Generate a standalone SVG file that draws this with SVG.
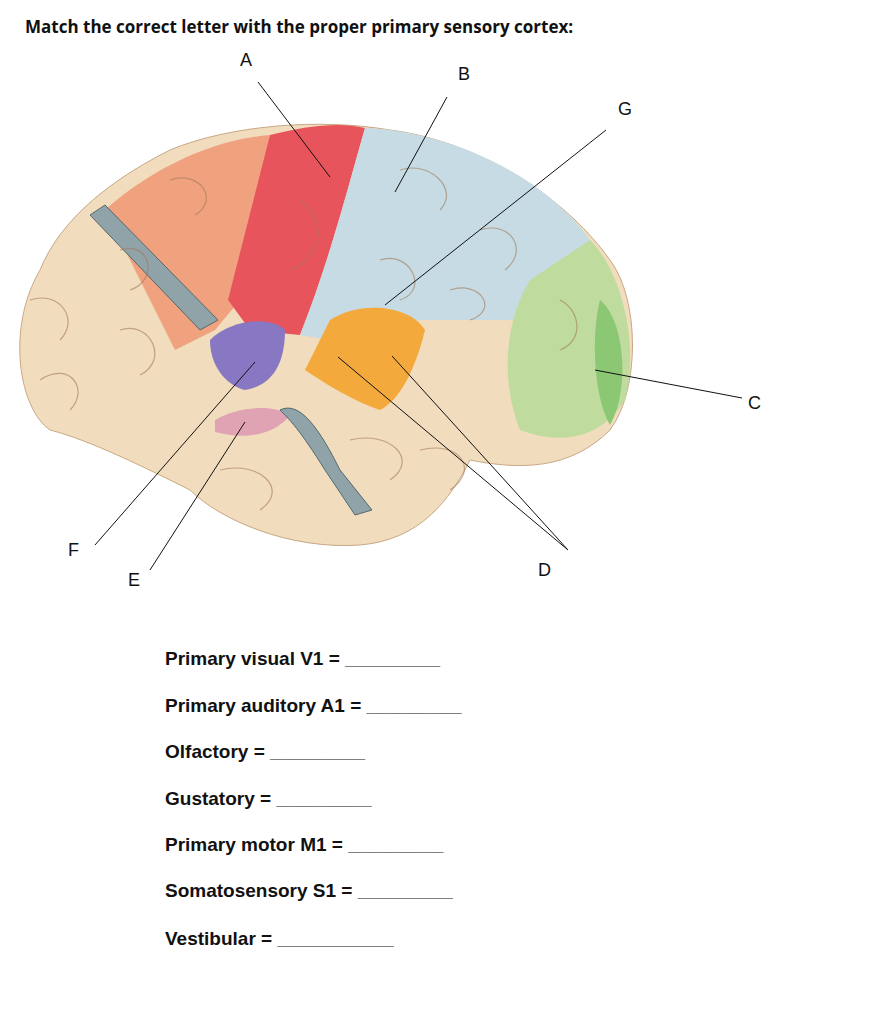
<svg xmlns="http://www.w3.org/2000/svg" width="881" height="1024" viewBox="0 0 881 1024">
<style>
.t{font-family:"Liberation Sans",Arial,sans-serif;font-size:18px;fill:#111}
.q{font-family:"Liberation Sans",Arial,sans-serif;font-size:19px;font-weight:bold;fill:#111}
.h{font-family:"Open Sans","Liberation Sans",sans-serif;font-size:17px;font-weight:bold;fill:#111}
.g{fill:none;stroke:#a07a5a;stroke-width:1.2;opacity:.6}
.lead line{stroke:#111;stroke-width:1}
</style>
<rect width="881" height="1024" fill="#fff"/>
<text class="h" x="25" y="33">Match the correct letter with the proper primary sensory cortex:</text>
<g id="brain">
<path d="M40,270 C60,220 110,180 170,150 C230,125 320,118 390,130 C470,140 560,190 610,260 C640,300 640,390 610,430 C570,470 520,470 470,460 C450,500 420,540 360,545 C290,550 220,520 190,490 C150,470 90,440 50,430 C20,410 5,330 40,270 Z" fill="#f1dcbd" stroke="#c7a985"/>
<path d="M105,210 C150,170 210,140 270,135 L240,300 L215,330 L175,350 Z" fill="#f0a27e"/>
<path d="M270,135 C310,125 340,122 365,128 C350,180 330,260 300,335 L250,330 L228,300 Z" fill="#e8545c"/>
<path d="M365,128 C440,130 540,170 590,240 C560,270 530,290 520,320 L420,320 L330,340 L300,335 C330,260 350,180 365,128 Z" fill="#c6dbe3"/>
<path d="M590,240 C620,270 640,340 625,400 C600,440 560,445 520,430 C500,380 505,320 530,280 Z" fill="#bfdc9e"/>
<path d="M600,300 C625,320 630,390 610,425 C595,400 590,340 600,300 Z" fill="#8cc774"/>
<path d="M330,320 C360,300 410,305 425,330 C415,370 400,400 380,410 C350,400 320,380 305,370 Z" fill="#f3a93c"/>
<path d="M210,340 C230,320 270,315 285,330 C285,360 275,385 245,390 C225,385 210,365 210,340 Z" fill="#8877c2"/>
<path d="M215,420 C240,405 275,405 290,415 C275,435 245,440 215,432 Z" fill="#dfa3b3"/>
<path d="M90,215 L200,330 L218,320 L105,205 Z" fill="#8fa3a8" stroke="#55686d"/>
<path d="M280,410 C300,400 320,430 340,470 L372,510 L355,515 L325,470 C300,430 290,420 280,410 Z" fill="#8fa3a8" stroke="#55686d"/>
<path class="g" d="M30,300 C60,290 80,320 60,340 M40,380 C70,360 90,390 70,410 M120,250 C150,240 160,280 130,290 M170,180 C200,170 220,200 195,215 M300,200 C330,220 320,260 290,270 M400,170 C430,160 460,190 440,210 M480,230 C510,220 530,250 505,270 M380,260 C410,250 430,290 400,300 M450,290 C480,280 500,310 470,320 M560,300 C580,310 585,340 560,350 M420,450 C460,440 480,470 450,490 M220,470 C260,460 290,490 260,510 M350,440 C390,430 420,460 390,480 M120,330 C150,320 170,360 140,375"/>
</g>
<g id="connectors" class="lead">
<line x1="258" y1="82" x2="330" y2="177"/>
<line x1="447" y1="97" x2="395" y2="192"/>
<line x1="606" y1="130" x2="385" y2="305"/>
<line x1="742" y1="398" x2="595" y2="370"/>
<line x1="568" y1="550" x2="338" y2="357"/>
<line x1="568" y1="550" x2="392" y2="356"/>
<line x1="150" y1="570" x2="245" y2="422"/>
<line x1="95" y1="545" x2="255" y2="362"/>
</g>
<g id="labels">
<text class="t" x="240" y="66">A</text>
<text class="t" x="458" y="80">B</text>
<text class="t" x="618" y="115">G</text>
<text class="t" x="748" y="409">C</text>
<text class="t" x="538" y="576">D</text>
<text class="t" x="128" y="586">E</text>
<text class="t" x="68" y="556">F</text>
</g>
<g id="questions">
<text class="q" x="165" y="665">Primary visual V1 = _________</text>
<text class="q" x="165" y="712">Primary auditory A1 = _________</text>
<text class="q" x="165" y="758">Olfactory  = _________</text>
<text class="q" x="165" y="805">Gustatory  = _________</text>
<text class="q" x="165" y="851">Primary motor M1 = _________</text>
<text class="q" x="165" y="897">Somatosensory S1 = _________</text>
<text class="q" x="165" y="945">Vestibular = ___________</text>
</g>
</svg>
